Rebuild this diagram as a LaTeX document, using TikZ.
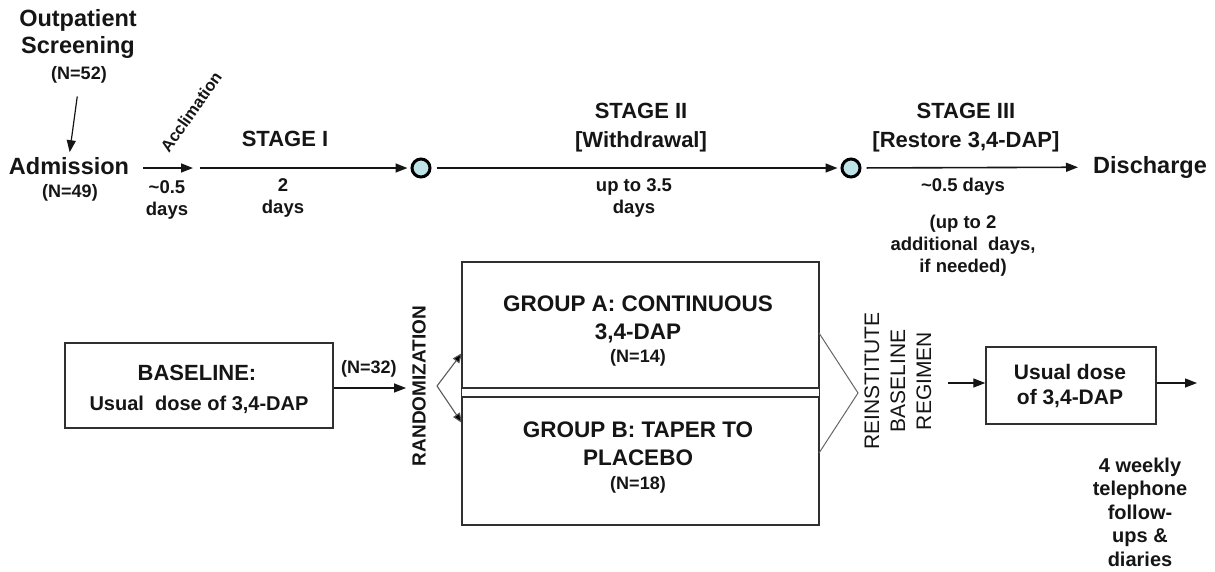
\documentclass[tikz,border=0pt]{standalone}
\usepackage{fontspec}
\setmainfont{Liberation Sans}
\usetikzlibrary{arrows.meta}
\definecolor{ink}{HTML}{151515}
\definecolor{frame}{HTML}{303030}
\definecolor{dot}{HTML}{BDE3E6}
\tikzset{
  lbl/.style={inner sep=0pt, text=ink, align=center},
  big/.style={lbl, font=\bfseries\fontsize{23.5}{27}\selectfont},
  stage/.style={lbl, font=\bfseries\fontsize{22}{29}\selectfont},
  note/.style={lbl, font=\bfseries\fontsize{18.5}{22}\selectfont},
  small/.style={lbl, font=\bfseries\fontsize{18}{20}\selectfont},
  grouptxt/.style={lbl, font=\bfseries\fontsize{22.5}{28}\selectfont},
  vert/.style={lbl, rotate=90, font=\fontsize{#1}{26}\selectfont},
  flow/.style={draw=ink, line width=1.6pt, -{Triangle[length=12pt,width=9pt]}},
  fork/.style={draw=black!65, line width=1.1pt, -{Triangle[length=10pt,width=8pt,fill=black]}},
  milestone/.style={circle, draw=black, line width=3pt, fill=dot, minimum size=18pt, inner sep=0pt},
  box/.style={draw=frame, line width=1.4pt, inner sep=0pt},
}
\begin{document}
\begin{tikzpicture}[x=1pt, y=-1pt]
\useasboundingbox (0,0) rectangle (1215,571);

% ---------- timeline ----------
\node[big] (outp) at (78,34) {Outpatient\\Screening};
\node[small] (n52) at (79,75) {(N=52)};
\node[big] (adm) at (69,166) {Admission};
\node[small] (n49) at (70,193) {(N=49)};
\draw[flow, line width=1.2pt, shorten <=13pt, shorten >=5pt] (n52.south) -- (adm.north);

\coordinate (acc0) at (143,168);
\coordinate (acc1) at (193,168);
\coordinate (s1) at (200,168);
\node[milestone] (c1) at (421,168) {};
\node[milestone] (c2) at (851,168) {};
\node[big] (dis) at (1150,167) {Discharge};

\draw[flow] (acc0) -- (acc1);
\draw[flow, shorten >=3pt] (s1) -- (c1);
\draw[flow, shorten <=5pt, shorten >=3pt] (c1) -- (c2);
\draw[flow, shorten <=5pt, shorten >=15pt] (c2) -- (dis);

\node[lbl, rotate=55, font=\bfseries\fontsize{16.5}{18}\selectfont] (accl) at (191,112) {Acclimation};
\node[note] (d05) at (167,200) {\textasciitilde0.5\\days};

\node[stage] (st1) at (285,139) {STAGE I};
\node[note] (d2) at (283,198) {2\\days};

\node[stage] (st2) at (641,128) {STAGE II\\{[}Withdrawal{]}};
\node[note] (d35) at (634,198) {up to 3.5\\days};

\node[stage] (st3) at (966,128) {STAGE III\\{[}Restore 3,4-DAP{]}};
\node[note] (d05b) at (963,187) {\textasciitilde0.5 days};
\node[note] (extra) at (963,246) {(up to 2\\additional\ \ days,\\if needed)};

% ---------- treatment arms ----------
\node[box, minimum width=268pt, minimum height=85pt] (base) at (199,385.5) {};
\node[lbl, font=\bfseries\fontsize{22}{26}\selectfont] (baset) at (197,373) {BASELINE:};
\node[lbl, font=\bfseries\fontsize{20}{24}\selectfont] (basev) at (199,405) {Usual\ \ dose of 3,4-DAP};

\node[vert=19, font=\bfseries\fontsize{19}{22}\selectfont] (rand) at (419,386) {RANDOMIZATION};
\draw[flow, line width=1.3pt, shorten >=6pt] (base.east |- 0,388) coordinate (b0) -- (rand.north |- b0)
  node[small, pos=0.45, above=10pt] (n32) {(N=32)};

\coordinate (fk) at (437,386);
\coordinate (fa) at (462,353);
\coordinate (fb) at (462,423);
\draw[fork] (fk) -- (fa);
\draw[fork] (fk) -- (fb);

\node[box, minimum width=357pt, minimum height=126pt] (ga) at (640.5,325) {};
\node[box, minimum width=357pt, minimum height=128pt] (gb) at (640.5,461) {};
\draw[frame, line width=1.4pt] (ga.south west) -- (gb.north west);
\draw[frame, line width=1.4pt] (ga.south east) -- (gb.north east);

\node[grouptxt] (gat) at (638,319) {GROUP A: CONTINUOUS\\3,4-DAP};
\node[small] (n14) at (638,358) {(N=14)};
\node[grouptxt] (gbt) at (638,444) {GROUP B: TAPER TO\\PLACEBO};
\node[small] (n18) at (638,485) {(N=18)};

\coordinate (cv0) at (819,333);
\coordinate (cv1) at (858,393);
\coordinate (cv2) at (819,453);
\draw[black!60, line width=1pt] (cv0) -- (cv1) -- (cv2);

\node[vert=21] (reinst) at (898,381) {REINSTITUTE\\BASELINE\\REGIMEN};

\node[box, minimum width=170pt, minimum height=77pt] (usual) at (1071,385.5) {};
\node[lbl, font=\bfseries\fontsize{21}{25}\selectfont] (usualt) at (1070,386) {Usual dose\\of 3,4-DAP};
\coordinate (u0) at (948,383);
\coordinate (u1) at (1197,383);
\draw[flow, line width=1.3pt] (u0) -- (usual.west |- u0);
\draw[flow, line width=1.3pt] (usual.east |- u1) -- (u1);

\node[lbl, font=\bfseries\fontsize{20}{23.5}\selectfont] (fu) at (1140,512) {4 weekly\\telephone\\follow-\\ups \&\\diaries};
\end{tikzpicture}
\end{document}
